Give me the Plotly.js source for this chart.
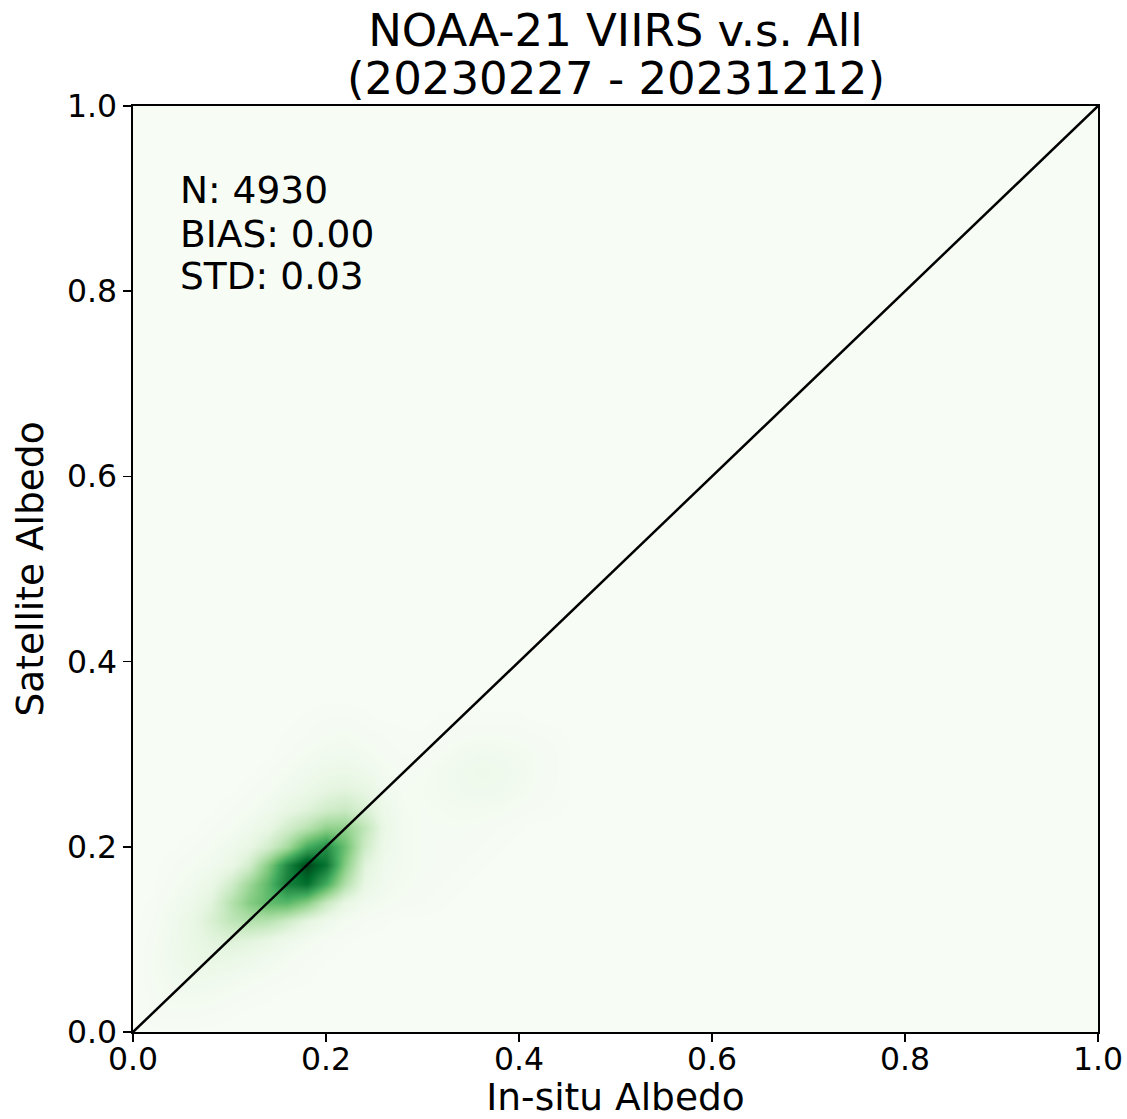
<!DOCTYPE html>
<html>
<head>
<meta charset="utf-8">
<script src="https://cdn.plot.ly/plotly-3.0.1.min.js"></script>
<style>html,body{margin:0;padding:0;background:#fff;}#chart{width:1127px;height:1119px;}</style>
</head>
<body>
<div id="chart"></div>
<script>
// Grid positions of the density estimate (albedo units)
var gridX = [0,0.02,0.04,0.06,0.08,0.10,0.12,0.14,0.16,0.18,0.20,0.22,0.24,0.26,0.28,0.30,0.32,0.34,0.36,0.38,0.40,0.42,0.44,0.46];
var gridY = [0,0.02,0.04,0.06,0.08,0.10,0.12,0.14,0.16,0.18,0.20,0.22,0.24,0.26,0.28,0.30,0.32,0.34,0.36,0.38];

// Relative point density (one row per gridY value)
var densityRows = [
  [0,0,0,0,0,0,0,0,0,0,0,0,0,0,0,0,0,0,0,0,0,0,0,0],
  [0,0.01,0.015,0.015,0.01,0.005,0,0,0,0,0,0,0,0,0,0,0,0,0,0,0,0,0,0],
  [0,0.015,0.03,0.035,0.03,0.02,0.01,0.005,0,0,0,0,0,0,0,0,0,0,0,0,0,0,0,0],
  [0,0.02,0.04,0.06,0.055,0.045,0.03,0.02,0.01,0.005,0,0,0,0,0,0,0,0,0,0,0,0,0,0],
  [0,0.02,0.05,0.08,0.1,0.09,0.07,0.045,0.025,0.01,0.005,0,0,0,0,0,0,0,0,0,0,0,0,0],
  [0,0.015,0.05,0.09,0.13,0.16,0.14,0.1,0.06,0.03,0.012,0.005,0,0,0,0,0,0,0,0,0,0,0,0],
  [0,0.01,0.045,0.09,0.17,0.27,0.32,0.3,0.22,0.12,0.06,0.025,0.01,0.005,0,0,0,0,0,0,0,0,0,0],
  [0,0.005,0.03,0.065,0.13,0.3,0.45,0.55,0.56,0.44,0.24,0.1,0.04,0.025,0.015,0.01,0.005,0,0,0,0,0,0,0],
  [0,0,0.015,0.04,0.08,0.2,0.38,0.56,0.8,0.86,0.62,0.32,0.1,0.04,0.025,0.015,0.01,0.005,0,0,0,0,0,0],
  [0,0,0.01,0.02,0.04,0.08,0.2,0.45,0.76,1.0,0.84,0.45,0.14,0.05,0.03,0.02,0.015,0.01,0.005,0,0,0,0,0],
  [0,0,0,0.01,0.02,0.05,0.1,0.2,0.36,0.62,0.74,0.52,0.22,0.07,0.03,0.02,0.015,0.015,0.01,0.005,0,0,0,0],
  [0,0,0,0,0.01,0.02,0.05,0.1,0.2,0.3,0.42,0.42,0.27,0.09,0.03,0.02,0.02,0.02,0.015,0.01,0.005,0,0,0],
  [0,0,0,0,0,0.01,0.02,0.05,0.1,0.15,0.21,0.24,0.17,0.07,0.025,0.02,0.025,0.03,0.03,0.025,0.015,0.01,0.005,0],
  [0,0,0,0,0,0,0.01,0.02,0.05,0.08,0.12,0.14,0.11,0.045,0.02,0.025,0.035,0.045,0.05,0.045,0.03,0.015,0.01,0],
  [0,0,0,0,0,0,0,0.01,0.025,0.05,0.07,0.08,0.06,0.03,0.015,0.02,0.035,0.05,0.06,0.055,0.04,0.02,0.01,0],
  [0,0,0,0,0,0,0,0,0.01,0.025,0.04,0.045,0.03,0.015,0.01,0.01,0.02,0.035,0.045,0.04,0.03,0.02,0.01,0],
  [0,0,0,0,0,0,0,0,0.005,0.01,0.02,0.025,0.015,0.01,0.005,0.005,0.01,0.015,0.02,0.02,0.015,0.01,0.005,0],
  [0,0,0,0,0,0,0,0,0,0.005,0.01,0.01,0.005,0,0,0,0.005,0.005,0.005,0.005,0.005,0,0,0],
  [0,0,0,0,0,0,0,0,0,0,0,0,0,0,0,0,0,0,0,0,0,0,0,0],
  [0,0,0,0,0,0,0,0,0,0,0,0,0,0,0,0,0,0,0,0,0,0,0,0]
];

// One-to-one reference line
var refLineX = [0, 1];
var refLineY = [0, 1];

// Axis ticks
var tickValues = [0, 0.2, 0.4, 0.6, 0.8, 1.0];
var tickLabels = ["0.0", "0.2", "0.4", "0.6", "0.8", "1.0"];

// Statistics text
var statLines = ["N: 4930", "BIAS: 0.00", "STD: 0.03"];
var statY = [0.909, 0.862, 0.816];

// Title: main line and date-range line
var titleMain = "NOAA-21 VIIRS v.s. All";
var titleDates = "(20230227 - 20231212)";

var greens = [
  [0, '#f7fcf5'], [0.125, '#e5f5e0'], [0.25, '#c7e9c0'], [0.375, '#a1d99b'],
  [0.5, '#74c476'], [0.625, '#41ab5d'], [0.75, '#238b45'], [0.875, '#006d2c'], [1, '#00441b']
];

var FONT = 'DejaVu Sans, Liberation Sans, sans-serif';

var traces = [
  {
    type: 'heatmap', x: gridX, y: gridY, z: densityRows,
    colorscale: greens, zmin: 0, zmax: 1, zsmooth: 'best',
    showscale: false, hoverinfo: 'skip'
  },
  {
    type: 'scatter', mode: 'lines', x: refLineX, y: refLineY,
    line: {color: '#000000', width: 2.5}, hoverinfo: 'skip', showlegend: false
  }
];

function axisBase(titleText) {
  return {
    range: [0, 1], tickvals: tickValues, ticktext: tickLabels,
    showgrid: false, zeroline: false,
    showline: true, mirror: true, linecolor: '#000000', linewidth: 1.6,
    ticks: 'outside', ticklen: 8, tickwidth: 1.6, tickcolor: '#000000',
    tickfont: {family: FONT, size: 31.5, color: '#000000'},
    title: {text: titleText, font: {family: FONT, size: 37.5, color: '#000000'}},
    automargin: false, fixedrange: true
  };
}

var xa = axisBase('In-situ Albedo');
xa.title.standoff = 10;
xa.ticklabelstandoff = -9;
var ya = axisBase('Satellite Albedo');
ya.title.standoff = 12;

var annotations = statLines.map(function (t, i) {
  return {
    text: t, xref: 'x', yref: 'y', x: 0.047, y: statY[i],
    xanchor: 'left', yanchor: 'middle', showarrow: false,
    font: {family: FONT, size: 37.5, color: '#000000'}
  };
});
annotations.push({
  text: titleDates, xref: 'paper', yref: 'paper', x: 0.5, y: 1.0302,
  xanchor: 'center', yanchor: 'middle', showarrow: false,
  font: {family: FONT, size: 45, color: '#000000'}
});

var layout = {
  width: 1127, height: 1119,
  margin: {l: 133, r: 29, t: 106, b: 87, pad: 0},
  paper_bgcolor: '#ffffff', plot_bgcolor: '#f7fcf5',
  showlegend: false,
  title: {
    text: titleMain,
    font: {family: FONT, size: 45, color: '#000000'},
    x: 0.5, xanchor: 'center', xref: 'paper',
    y: 0.959, yanchor: 'bottom', yref: 'container'
  },
  xaxis: xa, yaxis: ya,
  annotations: annotations
};

Plotly.newPlot('chart', traces, layout, {staticPlot: true, displayModeBar: false});
</script>
</body>
</html>
